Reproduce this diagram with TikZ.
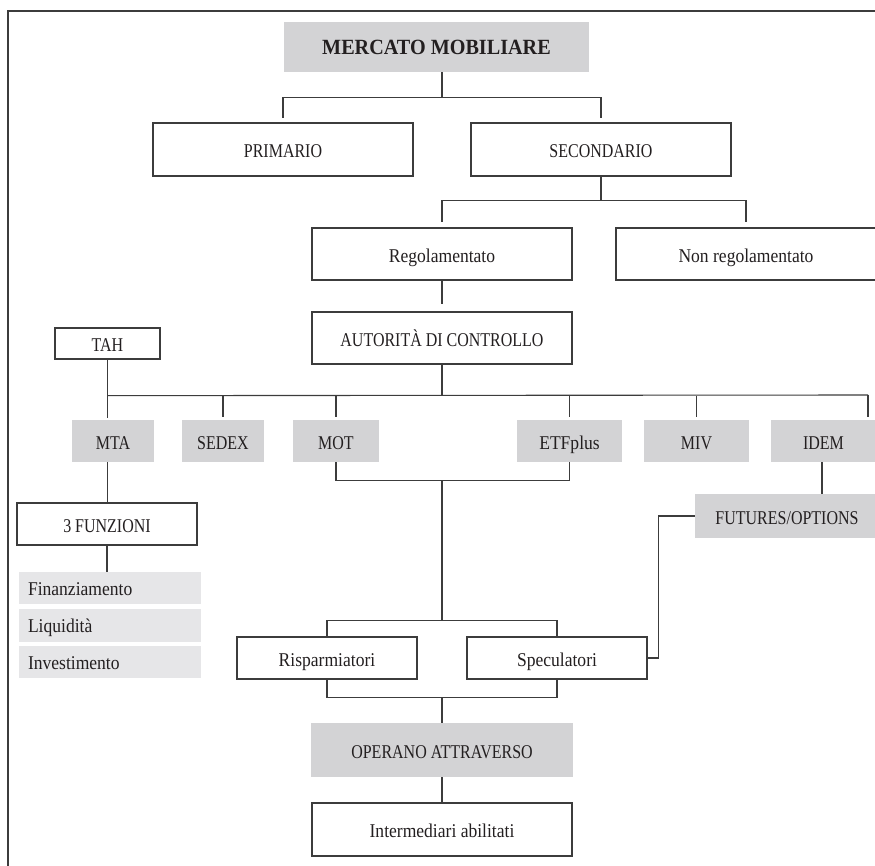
\documentclass[tikz,border=0pt]{standalone}
\usepackage{fontspec}
\setmainfont{Liberation Serif}[FakeStretch=0.9]
\newfontfamily\capsf{Liberation Serif}[FakeStretch=0.82]
\newfontfamily\titlef{Liberation Serif Bold}[FakeStretch=0.93]
\definecolor{linec}{HTML}{3C3C3C}
\definecolor{txt}{HTML}{231F20}
\definecolor{grayA}{HTML}{D3D3D5}
\definecolor{grayB}{HTML}{E6E6E8}
\begin{document}
\begin{tikzpicture}[x=1pt,y=-1pt,
  font=\fontsize{19.5}{21}\selectfont,
  every node/.style={text height=16pt, text depth=0pt},
  box/.style={draw=linec, line width=1.3pt, fill=white, inner sep=0pt, text=txt},
  gbox/.style={fill=grayA, inner sep=0pt, text=txt},
  caps/.style={font=\fontsize{19.5}{21}\capsf},
  lbox/.style={fill=grayB, inner xsep=9pt, inner ysep=0pt, text=txt, align=left,
               text width=164pt, minimum height=32.5pt, text height=14pt},
  conn/.style={draw=linec, line width=1.1pt}]
\useasboundingbox (0,0) rectangle (875,865);
\clip (0,0) rectangle (875,865);
% frame
\draw[conn] (8,870) -- (8,11) -- (880,11);
% nodes
\node[gbox, minimum width=305pt, minimum height=50pt, text height=14.5pt, font=\fontsize{21.7}{24}\titlef] (merc) at (436.5,47) {MERCATO MOBILIARE};
\node[box, caps, minimum width=260pt, minimum height=53pt] (prim) at (283,149.5) {PRIMARIO};
\node[box, caps, minimum width=260pt, minimum height=53pt] (sec) at (601,149.5) {SECONDARIO};
\node[box, minimum width=260pt, minimum height=52pt] (reg) at (442,254) {Regolamentato};
\node[box, minimum width=260pt, minimum height=52pt] (nonreg) at (746,254) {Non regolamentato};
\node[box, caps, minimum width=260pt, minimum height=52pt] (aut) at (442,338) {AUTORITÀ DI CONTROLLO};
\node[box, caps, minimum width=105pt, minimum height=31pt] (tah) at (107.5,343.5) {TAH};
\node[gbox, caps, minimum width=82pt, minimum height=42pt] (mta) at (113,441) {MTA};
\node[gbox, caps, minimum width=82pt, minimum height=42pt] (sedex) at (223,441) {SEDEX};
\node[gbox, caps, minimum width=86pt, minimum height=42pt] (mot) at (336,441) {MOT};
\node[gbox, minimum width=105pt, minimum height=42pt] (etf) at (569.5,441) {ETFplus};
\node[gbox, caps, minimum width=105pt, minimum height=42pt] (miv) at (696.5,441) {MIV};
\node[gbox, caps, minimum width=105pt, minimum height=42pt] (idem) at (823.5,441) {IDEM};
\node[gbox, caps, minimum width=184pt, minimum height=44pt] (fut) at (787,516) {FUTURES/OPTIONS};
\node[box, caps, minimum width=180pt, minimum height=42pt] (fun) at (107,524) {3 FUNZIONI};
\node[lbox] (fin) at (110,588) {Finanziamento};
\node[lbox] (liq) at (110,625.5) {Liquidità};
\node[lbox] (inv) at (110,662) {Investimento};
\node[box, minimum width=180pt, minimum height=42pt] (risp) at (327,658) {Risparmiatori};
\node[box, minimum width=180pt, minimum height=42pt] (spec) at (557,658) {Speculatori};
\node[gbox, caps, minimum width=262pt, minimum height=54pt] (oper) at (442,750) {OPERANO ATTRAVERSO};
\node[box, minimum width=260pt, minimum height=53pt] (inter) at (442,829.5) {Intermediari abilitati};
% connectors
\draw[conn] ([xshift=5.5pt]merc.south) -- ++(0,25) coordinate (b1);
\draw[conn, shorten >=4pt] (b1) -| (prim.north);
\draw[conn, shorten >=4pt] (b1) -| (sec.north);
\draw[conn] (sec.south) -- ++(0,24) coordinate (b2);
\draw[conn, shorten >=5pt] (b2) -| (reg.north);
\draw[conn, shorten >=5pt] (b2) -| (nonreg.north);
\draw[conn, shorten >=7pt] (reg.south) -- (aut.north);
\draw[conn] (aut.south) -- ++(0,31) coordinate (bus);
\coordinate (busR) at (868,395);
\draw[conn] (tah.south |- bus) -- (busR);
\draw[conn, shorten >=3pt] (busR) -- ++(0,25) coordinate (busRend);
\draw[conn, shorten >=2pt] (tah.south) -- (tah.south |- mta.north);
\foreach \n in {sedex,mot,etf,miv}{
  \draw[conn, shorten >=3pt] (\n.north |- bus) -- (\n.north);
}
\draw[conn] (tah.south |- mta.south) -- (tah.south |- fun.north);
\draw[conn] (fun.south) -- (fun.south |- fin.north);
\draw[conn] (mot.south) -- ++(0,18) coordinate (m1) -- (m1 -| etf.south) -- (etf.south);
\draw[conn] (m1 -| oper.north) -- ++(0,140) coordinate (m2);
\draw[conn] (risp.north) |- (m2) -| (spec.north);
\draw[conn] (risp.south) -- ++(0,18) coordinate (m3) -| (spec.south);
\draw[conn] (m3 -| oper.north) -- (oper.north);
\draw[conn] (oper.south) -- (inter.north);
\draw[conn] ([xshift=-1.5pt]idem.south) -- ([xshift=-1.5pt]idem.south |- fut.north);
\draw[conn] (fut.west) -- ++(-36,0) |- (spec.east);
\end{tikzpicture}
\end{document}
